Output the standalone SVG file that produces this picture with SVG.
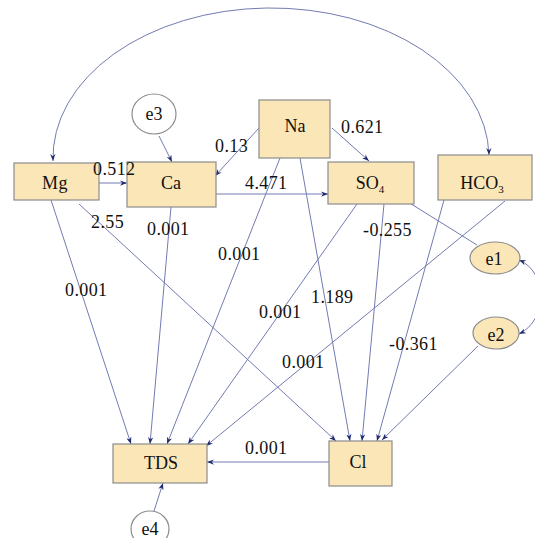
<svg xmlns="http://www.w3.org/2000/svg" width="535" height="538" viewBox="0 0 535 538">
<defs>
<marker id="ah" viewBox="0 0 8 6" markerWidth="7" markerHeight="5.5" refX="8" refY="3" orient="auto-start-reverse" markerUnits="userSpaceOnUse">
<path d="M0,0 L8,3 L0,6 L2.5,3 z" fill="#1f2a70"/>
</marker>
<style>
.box{fill:#fbe6b8;stroke:#8c8c8c;stroke-width:1.2}
.ew{fill:#ffffff;stroke:#8c8c8c;stroke-width:1.2}
.ef{fill:#fbe6b8;stroke:#8c8c8c;stroke-width:1.2}
.c{fill:none;stroke:#727bb2;stroke-width:1}
.a{marker-end:url(#ah)}
.d{marker-start:url(#ah);marker-end:url(#ah)}
text{font-family:"Liberation Serif","Times New Roman",serif;font-size:18px;fill:#111}
.n{text-anchor:middle}
.l{letter-spacing:0.4px}
</style>
</defs>
<rect width="535" height="538" fill="#ffffff"/>
<g id="connectors">
<path class="c d" d="M53 161 A218 150 0 0 1 489 155"/>
<line class="c a" x1="159" y1="136" x2="172" y2="162"/>
<line class="c a" x1="99" y1="183" x2="127" y2="183"/>
<line class="c a" x1="259" y1="128" x2="215" y2="176"/>
<line class="c a" x1="332" y1="128" x2="369" y2="161"/>
<line class="c a" x1="216" y1="194" x2="328" y2="194"/>
<line class="c a" x1="51" y1="200" x2="131" y2="444"/>
<line class="c a" x1="79" y1="204" x2="336" y2="441"/>
<line class="c a" x1="171" y1="207" x2="150" y2="444"/>
<line class="c a" x1="280" y1="158" x2="167" y2="444"/>
<line class="c a" x1="300" y1="158" x2="350" y2="441"/>
<line class="c a" x1="357" y1="204" x2="188" y2="444"/>
<line class="c a" x1="384" y1="204" x2="362" y2="441"/>
<line class="c" x1="408" y1="202" x2="477" y2="245"/>
<line class="c a" x1="505" y1="201" x2="206" y2="446"/>
<line class="c a" x1="444" y1="200" x2="377" y2="441"/>
<line class="c a" x1="478" y1="346" x2="382" y2="440"/>
<path class="c d" d="M519 260 C548 272 548 320 519 334"/>
<line class="c a" x1="329" y1="462" x2="207" y2="462"/>
<line class="c a" x1="154" y1="511" x2="163" y2="483"/>
</g>
<g id="Mg"><rect class="box" x="14" y="163" width="85" height="37"/><text class="n l" x="55" y="189">Mg</text></g>
<g id="Ca"><rect class="box" x="127" y="162" width="89" height="45"/><text class="n" x="171" y="189">Ca</text></g>
<g id="Na"><rect class="box" x="259" y="100" width="71" height="58"/><text class="n" x="295" y="132">Na</text></g>
<g id="SO4"><rect class="box" x="328" y="162" width="86" height="42"/><text class="n" x="370" y="189">SO<tspan font-size="11" dy="4">4</tspan></text></g>
<g id="HCO3"><rect class="box" x="438" y="155" width="94" height="45"/><text class="n" x="482" y="189">HCO<tspan font-size="11" dy="4">3</tspan></text></g>
<g id="TDS"><rect class="box" x="113" y="444" width="94" height="39"/><text class="n" x="161" y="469">TDS</text></g>
<g id="Cl"><rect class="box" x="329" y="441" width="63" height="45"/><text class="n" x="358" y="468">Cl</text></g>
<g id="e3"><ellipse class="ew" cx="154" cy="114" rx="22" ry="20"/><text class="n" x="154" y="120">e3</text></g>
<g id="e4"><ellipse class="ew" cx="150" cy="529" rx="19" ry="18"/><text class="n" x="150" y="535">e4</text></g>
<g id="e1"><ellipse class="ef" cx="495" cy="258" rx="25" ry="16"/><text class="n" x="494" y="265">e1</text></g>
<g id="e2"><ellipse class="ef" cx="496" cy="333" rx="23" ry="16"/><text class="n" x="496" y="341">e2</text></g>
<g id="labels">
<text class="l" x="93" y="175">0.512</text>
<text class="l" x="215" y="152">0.13</text>
<text class="l" x="341" y="133">0.621</text>
<text class="l" x="245" y="189">4.471</text>
<text class="l" x="91" y="228">2.55</text>
<text class="l" x="147" y="235">0.001</text>
<text class="l" x="218" y="260">0.001</text>
<text class="l" x="65" y="296">0.001</text>
<text class="l" x="311" y="303">1.189</text>
<text class="l" x="259" y="318">0.001</text>
<text class="l" x="363" y="236">-0.255</text>
<text class="l" x="389" y="350">-0.361</text>
<text class="l" x="282" y="368">0.001</text>
<text class="l" x="245" y="454">0.001</text>
</g>
</svg>
